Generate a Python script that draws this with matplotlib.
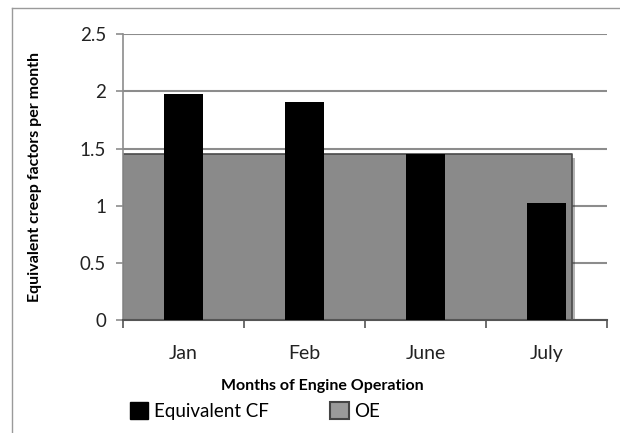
import matplotlib.pyplot as plt
import matplotlib.patheffects as pe
from matplotlib.lines import Line2D
from matplotlib.patches import Patch
import numpy as np

months = ['Jan', 'Feb', 'June', 'July']
equivalent_cf = [1.98, 1.91, 1.45, 1.02]
oe = [1.45, 1.45, 1.45, 1.45]

plt.rcParams['font.family'] = ['Lato', 'DejaVu Sans']

fig = plt.figure(figsize=(6.2, 4.33), dpi=100)
ax = fig.add_axes([0.198, 0.261, 0.781, 0.66])

x = np.arange(len(months))

# OE shaded area (spans the plot, stops just past the July bar)
xs = np.concatenate([[x[0] - 0.5], x, [x[-1] + 0.21]])
ys = np.concatenate([[oe[0]], oe, [oe[-1]]])
area = ax.fill_between(xs, 0, ys, color='#8a8a8a', edgecolor='#4a4a4a',
                       linewidth=1.2, zorder=2, label='OE')
area.set_path_effects([pe.SimplePatchShadow(offset=(2, -3), alpha=0.35),
                       pe.Normal()])

ax.bar(x, equivalent_cf, width=0.32, color='black', zorder=3,
       label='Equivalent CF')

ax.set_xlim(-0.5, 3.5)
ax.set_ylim(0, 2.5)
ax.set_yticks([0, 0.5, 1, 1.5, 2, 2.5])
ax.set_yticklabels(['0', '0.5', '1', '1.5', '2', '2.5'])
ax.set_xticks(x)
ax.set_xticklabels(months)
ax.set_xticks(np.arange(-0.5, 3.6, 1), minor=True)

ax.grid(axis='y', color='#8c8c8c', linewidth=1.5, zorder=1)
ax.set_axisbelow(True)
for s in ['top', 'right']:
    ax.spines[s].set_visible(False)
ax.spines['left'].set_color('#8c8c8c')
ax.spines['left'].set_linewidth(1.2)
ax.spines['bottom'].set_color('#555555')
ax.spines['bottom'].set_linewidth(1.5)

ax.tick_params(axis='y', length=5, width=1.2, labelsize=13.5, pad=7,
               colors='#8c8c8c', labelcolor='#222222')
ax.tick_params(axis='x', which='major', length=0, labelsize=14, pad=18,
               labelcolor='#222222')
ax.tick_params(axis='x', which='minor', length=6, color='#555555', width=1.2)

ax.set_ylabel('Equivalent creep factors per month', fontsize=11.5,
              fontweight='bold')
ax.set_xlabel('Months of Engine Operation', fontsize=11.5, fontweight='bold')
ax.xaxis.set_label_coords(0.413, -0.205)
ax.yaxis.set_label_coords(-0.167, 0.5)

handles = [Patch(facecolor='black', edgecolor='black'),
           Patch(facecolor='#9a9a9a', edgecolor='#444444', linewidth=1.5)]
fig.legend(handles, ['Equivalent CF', 'OE'], loc='center left',
           bbox_to_anchor=(0.182, 0.05), ncol=2, frameon=False,
           fontsize=13.5, handlelength=1.0, handleheight=1.0,
           handletextpad=0.3, columnspacing=3.25)

# outer frame
fig.add_artist(Line2D([12 / 620, 1.0], [1 - 8 / 433, 1 - 8 / 433],
                      transform=fig.transFigure, color='#9a9a9a', lw=1))
fig.add_artist(Line2D([12 / 620, 12 / 620], [0, 1 - 8 / 433],
                      transform=fig.transFigure, color='#9a9a9a', lw=1))

fig.savefig('out.png', dpi=100)
